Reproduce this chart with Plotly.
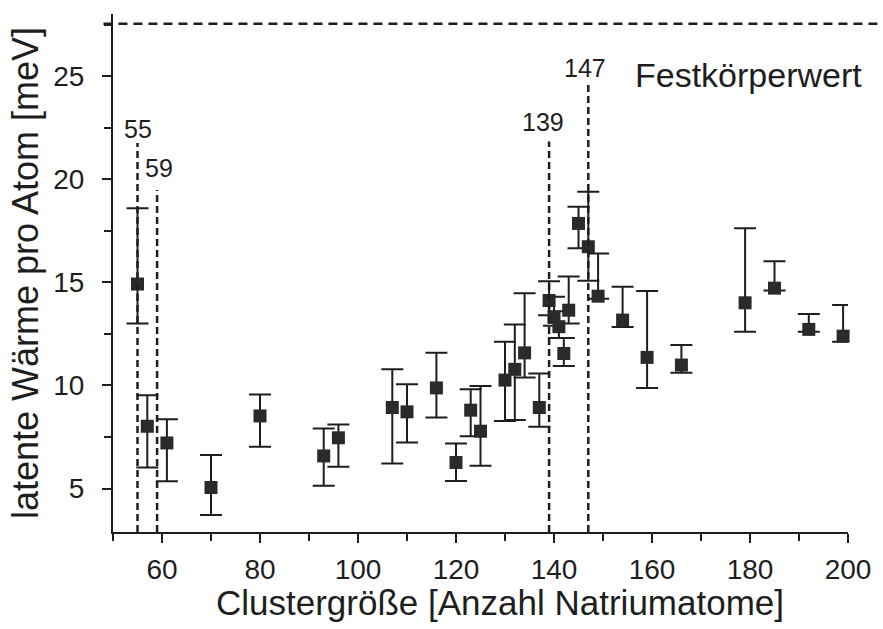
import plotly.graph_objects as go

# Cluster sizes (number of Na atoms) and latent heat per atom [meV]
cluster_size = [55, 57, 61, 70, 80, 93, 96, 107, 110, 116, 120, 123, 125, 130, 132,
                134, 137, 139, 140, 141, 142, 143, 145, 147, 149, 154, 159, 166,
                179, 185, 192, 199]
latent_heat = [14.92, 8.02, 7.21, 5.05, 8.52, 6.58, 7.46, 8.93, 8.72, 9.88, 6.26,
               8.80, 7.78, 10.26, 10.78, 11.58, 8.93, 14.12, 13.30, 12.85, 11.55,
               13.65, 17.86, 16.73, 14.33, 13.17, 11.36, 10.99, 14.01, 14.72,
               12.72, 12.39]
# Upper and lower ends of the error bars [meV]
upper_bound = [18.60, 9.53, 8.36, 6.62, 9.56, 7.91, 8.11, 10.78, 10.06, 11.58, 7.18,
               9.81, 9.97, 12.12, 12.96, 14.47, 10.58, 15.05, 14.30, 13.60, 12.30,
               15.28, 18.67, 19.40, 16.40, 14.79, 14.58, 11.96, 17.62, 16.03,
               13.46, 13.90]
lower_bound = [13.00, 6.02, 5.35, 3.71, 7.02, 5.13, 6.05, 6.21, 7.23, 8.45, 5.37,
               7.54, 6.10, 8.28, 8.32, 10.39, 7.99, 13.40, 12.90, 12.30, 10.94,
               13.00, 16.65, 15.08, 14.20, 12.84, 9.88, 10.61, 12.60, 14.60,
               12.60, 12.12]

# Marked magic cluster sizes and the height of their dashed markers
magic_sizes = [55, 59, 139, 147]
magic_line_top = [21.76, 19.48, 21.83, 24.67]
magic_label_pos = [(55.0, 22.45), (59.3, 20.55), (137.8, 22.8), (146.3, 25.4)]

# Bulk value of the latent heat
bulk_value = 27.55
bulk_label = "Festkörperwert"

x_ticks = [60, 80, 100, 120, 140, 160, 180, 200]
y_ticks = [5, 10, 15, 20, 25]
x_range = [50, 200]
y_range = [2.89, 28.02]

x_title = "Clustergröße [Anzahl Natriumatome]"
y_title = "latente Wärme pro Atom [meV]"

err_plus = [u - y for u, y in zip(upper_bound, latent_heat)]
err_minus = [y - l for y, l in zip(latent_heat, lower_bound)]

FONT = "Liberation Sans, Arial, sans-serif"
INK = "#1e1e1e"

fig = go.Figure()

fig.add_trace(go.Scatter(
    x=cluster_size, y=latent_heat, mode="markers",
    marker=dict(symbol="square", size=13, color="#2a2a2a",
                line=dict(width=0)),
    error_y=dict(type="data", symmetric=False, array=err_plus,
                 arrayminus=err_minus, color=INK, thickness=2, width=11),
    cliponaxis=False, showlegend=False,
))

# Dashed markers for the magic numbers
for size, top, (lx, ly) in zip(magic_sizes, magic_line_top, magic_label_pos):
    fig.add_shape(type="line", xref="x", yref="y", x0=size, x1=size,
                  y0=y_range[0], y1=top,
                  line=dict(color=INK, width=2.5, dash="7px,4px"))
    fig.add_annotation(x=lx, y=ly, xref="x", yref="y", text=str(size),
                       showarrow=False, font=dict(family=FONT, size=25, color=INK),
                       xanchor="center", yanchor="middle")

# Bulk reference line
fig.add_shape(type="line", xref="paper", yref="y", x0=-0.013, x1=1.04,
              y0=bulk_value, y1=bulk_value,
              line=dict(color=INK, width=2.5, dash="9px,6px"))
fig.add_annotation(x=156.1, y=25.06, xref="x", yref="y", text=bulk_label,
                   showarrow=False, font=dict(family=FONT, size=34, color=INK),
                   xanchor="left", yanchor="middle")

# Horizontal axis title, set slightly right of the plot centre
fig.add_annotation(x=0.527, y=-0.137, xref="paper", yref="paper", text=x_title,
                   showarrow=False, font=dict(family=FONT, size=35, color=INK),
                   xanchor="center", yanchor="middle")

fig.update_layout(
    width=883, height=629,
    margin=dict(l=113, r=29, t=14, b=97),
    paper_bgcolor="white", plot_bgcolor="white",
    font=dict(family=FONT, color=INK),
    xaxis=dict(
        range=x_range, tickvals=x_ticks, ticks="outside", ticklen=9,
        tickwidth=2, tickcolor=INK, showline=True, linewidth=2, linecolor=INK,
        showgrid=False, zeroline=False, tickfont=dict(size=28),
        ticklabelstandoff=2,
        minor=dict(dtick=10, tick0=50, ticks="outside", ticklen=7,
                   tickwidth=2, tickcolor=INK, showgrid=False),
    ),
    yaxis=dict(
        range=y_range, tickvals=y_ticks, ticks="outside", ticklen=9,
        tickwidth=2, tickcolor=INK, showline=True, linewidth=2, linecolor=INK,
        showgrid=False, zeroline=False, tickfont=dict(size=28),
        ticklabelstandoff=12,
        minor=dict(dtick=2.5, tick0=0, ticks="outside", ticklen=7,
                   tickwidth=2, tickcolor=INK, showgrid=False),
        title=dict(text=y_title, font=dict(size=36), standoff=4),
    ),
)

fig.write_html("out.html")
